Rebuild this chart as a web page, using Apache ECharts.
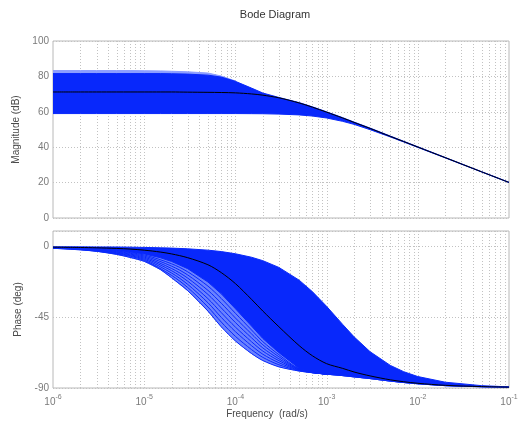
<!DOCTYPE html>
<html>
<head>
<meta charset="utf-8">
<script src="https://cdn.jsdelivr.net/npm/echarts@6/dist/echarts.min.js"></script>
<style>
  html, body { margin: 0; padding: 0; background: #fff; }
  #chart { width: 524px; height: 424px; }
</style>
</head>
<body>
<div id="chart"></div>
<script>
// Frequency samples (rad/s) shared by the envelope curves
const W = [1e-6, 2e-6, 3e-6, 5e-6, 7e-6, 1e-5, 1.5e-5, 2e-5, 3e-5, 5e-5, 7e-5,
           1e-4, 1.5e-4, 2e-4, 3e-4, 5e-4, 7e-4, 1e-3, 1.5e-3, 2e-3, 3e-3, 5e-3, 7e-3,
           1e-2, 2e-2, 5e-2, 1e-1];

// Magnitude (dB): nominal model and the envelope of the sampled models
const MAG_NOMINAL   = [71.2, 71.2, 71.2, 71.2, 71.2, 71.2, 71.2, 71.2, 71.1, 71.0, 70.9,
                       70.7, 70.1, 69.4, 67.9, 65.0, 62.6, 59.8, 56.5, 54.0, 50.6, 46.1, 43.2,
                       40.1, 34.1, 26.1, 20.1];
const MAG_DENSE_TOP = [81.6, 81.6, 81.6, 81.6, 81.6, 81.6, 81.6, 81.5, 81.3, 80.7, 79.6,
                       77.2, 73.4, 70.6, 68.1, 65.2, 62.8, 60.0, 56.7, 54.2, 50.8, 46.3, 43.35,
                       40.25, 34.2, 26.2, 20.2];
const MAG_LOW       = [59.0, 59.0, 59.0, 59.0, 59.0, 59.0, 59.0, 59.0, 59.0, 59.0, 59.0,
                       59.0, 58.95, 58.9, 58.7, 58.25, 57.6, 56.5, 54.6, 52.9, 49.9, 45.8, 42.95,
                       39.9, 33.95, 26.0, 20.0];
// a few outlying high-gain models above the dense band (low frequencies only)
const W_MAG_OUTER   = [1e-6, 2e-6, 3e-6, 5e-6, 7e-6, 1e-5, 1.5e-5, 2e-5, 3e-5, 5e-5, 7e-5, 1e-4];
const MAG_OUTER_TOP = [83.3, 83.3, 83.3, 83.3, 83.3, 83.2, 83.1, 82.9, 82.6, 81.9, 80.2, 77.4];
const MAG_OUTER_BOT = [81.6, 81.6, 81.6, 81.6, 81.6, 81.6, 81.6, 81.5, 81.3, 80.7, 79.6, 77.2];

// Phase (deg): nominal model and envelope
const PH_NOMINAL   = [-0.3, -0.5, -0.7, -1.1, -1.5, -2.2, -3.4, -4.6, -7.0, -11.5, -16.5,
                      -23.5, -33.5, -41.0, -51.0, -63.0, -69.5, -74.5, -77.5, -79.8, -82.3, -84.8, -86.0,
                      -87.0, -88.3, -89.1, -89.45];
const PH_HIGH      = [-0.05, -0.1, -0.15, -0.2, -0.3, -0.45, -0.7, -0.9, -1.35, -2.2, -3.1,
                      -4.5, -6.7, -8.9, -13.2, -21.3, -28.7, -38.0, -49.5, -57.4, -66.9, -75.6, -79.6,
                      -82.7, -86.3, -88.5, -89.3];
const PH_DENSE_LOW = [-0.5, -1.0, -1.4, -2.4, -3.3, -4.6, -7.0, -9.4, -14.0, -22.5, -30.0,
                      -39.5, -50.5, -58.5, -67.5, -77.5, -80.3, -81.2, -82.1, -82.9, -84.0, -85.6, -86.5,
                      -87.3, -88.5, -89.2, -89.5];
const PH_LOW       = [-1.0, -2.0, -2.9, -4.9, -6.8, -9.3, -14.5, -19.8, -28.0, -41.0, -51.0,
                      -60.0, -68.0, -72.5, -76.5, -79.2, -80.3, -81.2, -82.1, -82.9, -84.0, -85.6, -86.5,
                      -87.3, -88.5, -89.2, -89.5];

// Individual slow models, visible as separate traces on the lagging side
const W_SPARSE = [1e-6, 2e-6, 5e-6, 1e-5, 2e-5, 3e-5, 5e-5, 7e-5, 1e-4, 1.5e-4, 2e-4, 3e-4, 5e-4, 1e-3];
const PH_TRACES = [
  [-0.93, -1.86, -4.54, -8.63, -18.3, -26.0, -38.4, -48.0, -57.1, -65.5, -70.5, -75.2, -78.9, -81.2],
  [-0.86, -1.71, -4.19, -7.96, -16.8, -24.0, -35.7, -45.0, -54.1, -63.0, -68.5, -73.9, -78.6, -81.2],
  [-0.79, -1.57, -3.83, -7.28, -15.3, -22.0, -33.1, -42.0, -51.2, -60.5, -66.5, -72.6, -78.4, -81.2],
  [-0.71, -1.43, -3.47, -6.62, -13.9, -20.0, -30.4, -39.0, -48.3, -58.0, -64.5, -71.4, -78.1, -81.2],
  [-0.64, -1.29, -3.11, -5.94, -12.4, -18.0, -27.8, -36.0, -45.4, -55.5, -62.5, -70.1, -77.9, -81.2],
  [-0.57, -1.14, -2.76, -5.27, -10.9, -16.0, -25.1, -33.0, -42.4, -53.0, -60.5, -68.8, -77.7, -81.2]
];

const FONT = '"Liberation Sans", Arial, Helvetica, sans-serif';
const BLUE = '#0828fb';
const MAG_LIGHT = '#8c9eff';
const PH_LIGHT = '#6a82ff';
const GRID_COLOR = '#c2c2c2';
const DOTS = [1, 2];

const pairs = (xs, ys) => xs.map((x, i) => [x, ys[i]]);

// vertical log grid: decades and the 2..9 x 10^k lines between them
const X_GRID = [];
for (let e = -6; e <= -2; e++) {
  for (let m = 1; m <= 9; m++) {
    if (e === -6 && m === 1) continue;
    X_GRID.push(m * Math.pow(10, e));
  }
}

function band(idx, xs, upper, lower, color, z) {
  return {
    type: 'custom', xAxisIndex: idx, yAxisIndex: idx, z, clip: true, silent: true,
    encode: { x: 0, y: 1 },
    data: [[xs[0], upper[0]]],
    renderItem(params, api) {
      const top = upper.map((v, i) => api.coord([xs[i], v]));
      const bot = lower.map((v, i) => api.coord([xs[i], v])).reverse();
      return {
        type: 'polygon',
        shape: { points: top.concat(bot) },
        style: { fill: color, stroke: color, lineWidth: 1 }
      };
    }
  };
}

function trace(idx, xs, ys, color, z) {
  return {
    type: 'line', xAxisIndex: idx, yAxisIndex: idx, z, silent: true,
    data: pairs(xs, ys), smooth: 0.3, showSymbol: false, symbol: 'none',
    lineStyle: { color, width: 1 }
  };
}

// dotted vertical grid lines placed through the log x scale
function verticalGrid(idx, yRef) {
  return {
    type: 'custom', xAxisIndex: idx, yAxisIndex: idx, z: 1, silent: true,
    encode: { x: 0, y: 1 },
    data: X_GRID.map(v => [v, yRef]),
    renderItem(params, api) {
      const cs = params.coordSys;
      const px = Math.round(api.coord([api.value(0), yRef])[0]) + 0.5;
      return {
        type: 'line',
        shape: { x1: px, y1: cs.y, x2: px, y2: cs.y + cs.height },
        style: { stroke: GRID_COLOR, lineWidth: 1, lineDash: DOTS }
      };
    }
  };
}

const splitLine = { show: true, lineStyle: { color: GRID_COLOR, width: 1, type: DOTS } };
const tickLabel = { color: '#7a7a7a', fontFamily: FONT, fontSize: 10 };

const xBase = {
  type: 'log', logBase: 10, min: 1e-6, max: 1e-1,
  axisLine: { show: false }, axisTick: { show: false }, splitLine: { show: false }
};

const option = {
  animation: false,
  backgroundColor: '#ffffff',
  grid: [
    { left: 53, width: 456, top: 41, height: 177, show: true, borderColor: '#b8b8b8', borderWidth: 1, containLabel: false },
    { left: 53, width: 456, top: 231, height: 157, show: true, borderColor: '#b8b8b8', borderWidth: 1, containLabel: false }
  ],
  xAxis: [
    Object.assign({ gridIndex: 0, axisLabel: { show: false } }, xBase),
    Object.assign({
      gridIndex: 1,
      axisLabel: {
        show: true, margin: 6,
        formatter: v => '{b|10}{s|' + Math.round(Math.log10(v)) + '}',
        rich: {
          b: Object.assign({ lineHeight: 13, verticalAlign: 'bottom' }, tickLabel),
          s: Object.assign({}, tickLabel, { fontSize: 7, lineHeight: 13, verticalAlign: 'top' })
        }
      }
    }, xBase)
  ],
  yAxis: [
    {
      gridIndex: 0, type: 'value', min: 0, max: 100, interval: 20,
      axisLine: { show: false }, axisTick: { show: false }, splitLine,
      axisLabel: Object.assign({ margin: 4 }, tickLabel),
      name: 'Magnitude (dB)', nameLocation: 'middle', nameGap: 27, nameRotate: 90,
      nameTextStyle: { color: '#4a4a4a', fontFamily: FONT, fontSize: 10 }
    },
    {
      gridIndex: 1, type: 'value', min: -90, max: 10, interval: 45,
      axisLine: { show: false }, axisTick: { show: false }, splitLine,
      axisLabel: Object.assign({ margin: 4, formatter: v => (v === 10 ? '' : String(v)) }, tickLabel),
      name: 'Phase (deg)', nameLocation: 'middle', nameGap: 27, nameRotate: 90,
      nameTextStyle: { color: '#4a4a4a', fontFamily: FONT, fontSize: 10 }
    }
  ],
  graphic: [
    { type: 'text', x: 275, y: 15, silent: true,
      style: { text: 'Bode Diagram', align: 'center', verticalAlign: 'middle', fill: '#333', font: '11px ' + FONT } },
    { type: 'text', x: 267, y: 414, silent: true,
      style: { text: 'Frequency  (rad/s)', align: 'center', verticalAlign: 'middle', fill: '#4a4a4a', font: '10px ' + FONT } }
  ],
  series: [
    verticalGrid(0, 50),
    verticalGrid(1, -40),
    // magnitude envelope
    band(0, W_MAG_OUTER, MAG_OUTER_TOP, MAG_OUTER_BOT, MAG_LIGHT, 2),
    band(0, W, MAG_DENSE_TOP, MAG_LOW, BLUE, 3),
    trace(0, W, MAG_NOMINAL, '#000000', 6),
    // phase envelope
    band(1, W, PH_DENSE_LOW, PH_LOW, PH_LIGHT, 2),
    band(1, W, PH_HIGH, PH_DENSE_LOW, BLUE, 3),
    trace(1, W, PH_LOW, BLUE, 4)
  ].concat(
    PH_TRACES.map(t => trace(1, W_SPARSE, t, BLUE, 4)),
    [trace(1, W, PH_NOMINAL, '#000000', 6)]
  )
};

const chart = echarts.init(document.getElementById('chart'), null, { renderer: 'canvas' });
chart.setOption(option);
</script>
</body>
</html>
